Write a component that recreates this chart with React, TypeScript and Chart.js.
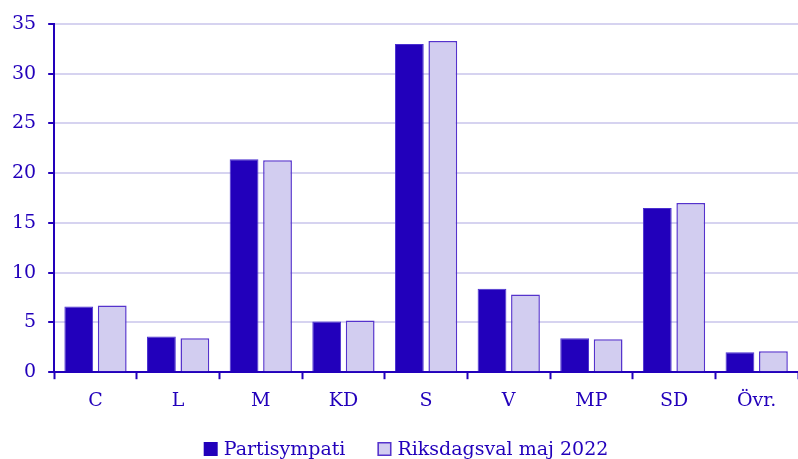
import React, { useEffect, useRef } from "react";
import { Chart, registerables } from "chart.js";

Chart.register(...registerables);

const categories = ["C", "L", "M", "KD", "S", "V", "MP", "SD", "Övr."];
const partisympati = [6.6, 3.6, 21.4, 5.1, 33.0, 8.4, 3.4, 16.5, 2.0];
const riksdagsval = [6.7, 3.4, 21.3, 5.2, 33.3, 7.8, 3.3, 17.0, 2.1];
const seriesNames = ["Partisympati", "Riksdagsval maj 2022"];

const DARK = "#2200bb";
const LIGHT = "#d2cdf0";
const LIGHT_BORDER = "#5533cc";
const GRID = "#d6d3f0";
const FONT = "DejaVu Serif";
const FONT_SIZE = 19;

const bottomLegend = {
  id: "bottomLegend",
  afterDraw(chart: any) {
    const ctx = chart.ctx;
    const ds = chart.data.datasets;
    ctx.save();
    ctx.font = `${FONT_SIZE}px "${FONT}"`;
    ctx.textBaseline = "middle";
    const box = 14;
    const gapText = 6;
    const gapItems = 32;
    const widths = ds.map((d: any) => ctx.measureText(d.label).width);
    let total = 0;
    widths.forEach((w: number, i: number) => {
      total += box + gapText + w + (i < widths.length - 1 ? gapItems : 0);
    });
    let x = chart.width / 2 + 7 - total / 2;
    const cy = 449;
    ds.forEach((d: any, i: number) => {
      ctx.fillStyle = d.backgroundColor;
      ctx.fillRect(x, cy - box / 2, box, box);
      if (d.borderWidth > 1) {
        ctx.strokeStyle = d.borderColor;
        ctx.lineWidth = 1.5;
        ctx.strokeRect(x + 0.75, cy - box / 2 + 0.75, box - 1.5, box - 1.5);
      }
      ctx.fillStyle = DARK;
      ctx.fillText(d.label, x + box + gapText, cy + 1);
      x += box + gapText + widths[i] + gapItems;
    });
    ctx.restore();
  },
};

export default function App() {
  const ref = useRef<HTMLCanvasElement | null>(null);
  useEffect(() => {
    document.body.style.margin = "0";
    const ctx = ref.current!;
    const chart = new Chart(ctx, {
      type: "bar",
      data: {
        labels: categories,
        datasets: [
          {
            label: seriesNames[0],
            data: partisympati,
            backgroundColor: DARK,
            borderColor: "#4a2fd0",
            borderWidth: 1,
            categoryPercentage: 0.81,
            barPercentage: 0.86,
          },
          {
            label: seriesNames[1],
            data: riksdagsval,
            backgroundColor: LIGHT,
            borderColor: LIGHT_BORDER,
            borderWidth: 1.5,
            categoryPercentage: 0.81,
            barPercentage: 0.86,
          },
        ],
      },
      plugins: [bottomLegend],
      options: {
        animation: false,
        responsive: false,
        maintainAspectRatio: false,
        layout: { padding: { top: 24, right: 0, left: 0, bottom: 37 } },
        plugins: {
          tooltip: { enabled: false },
          legend: { display: false },
        },
        scales: {
          x: {
            offset: true,
            grid: {
              offset: true,
              drawOnChartArea: false,
              drawTicks: true,
              tickLength: 7,
              tickWidth: 2,
              tickColor: DARK,
            },
            border: { display: true, color: DARK, width: 2 },
            ticks: {
              color: DARK,
              font: { family: FONT, size: FONT_SIZE },
              padding: 10,
              maxRotation: 0,
            },
          },
          y: {
            min: 0,
            max: 35,
            grid: {
              color: GRID,
              lineWidth: 2,
              drawTicks: true,
              tickLength: 6,
              tickColor: DARK,
              tickWidth: 2,
            },
            border: { display: true, color: DARK, width: 2 },
            ticks: {
              stepSize: 5,
              color: DARK,
              font: { family: FONT, size: FONT_SIZE },
              padding: 12,
            },
          },
        },
      },
    });
    return () => chart.destroy();
  }, []);
  return (
    <div style={{ width: 798, height: 459, position: "relative" }}>
      <canvas ref={ref} width={798} height={459} style={{ display: "block" }} />
    </div>
  );
}
